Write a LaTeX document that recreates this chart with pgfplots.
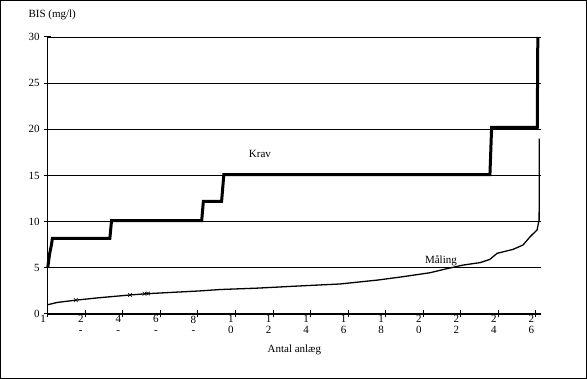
\documentclass[border=0pt]{standalone}
\usepackage{fontspec}
\setmainfont{Liberation Serif}
\usepackage{pgfplots}
\pgfplotsset{compat=1.18}
\begin{document}
\begin{tikzpicture}[font=\fontsize{11bp}{12bp}\selectfont]
\path[use as bounding box] (0,0) rectangle (587bp,379bp);
\draw[line width=1bp] (0.5bp,0.5bp) rectangle (586.5bp,378.5bp);
\begin{axis}[
  scale only axis, width=493.3bp, height=277bp,
  at={(47.7bp,65bp)}, anchor=south west,
  xmin=1, xmax=263.7, ymin=0, ymax=30,
  axis x line=bottom, axis y line=left,
  axis line style={-, line width=1bp, black},
  clip=false,
  /pgf/number format/assume math mode=true,
  tick align=center, major tick length=7bp,
  tick style={black, line width=1bp},
  ytick={0,5,...,30},
  ymajorgrids, grid style={black, line width=0.9bp},
  xtick={1,21,...,261},
  xticklabels={1,{2\\-},{4\\-},{6\\-},{8\\-},{1\\0},{1\\2},{1\\4},{1\\6},{1\\8},{2\\0},{2\\2},{2\\4},{2\\6}},
  xticklabel style={align=center, xshift=-4.5bp, anchor=north, yshift=3bp, inner sep=1bp, font=\fontsize{11bp}{10.5bp}\selectfont},
  yticklabel style={anchor=east, xshift=-1bp, font=\fontsize{11bp}{12bp}\selectfont},
  xlabel={Antal anlæg},
  ylabel={BIS (mg/l)},
  every axis x label/.style={at={(rel axis cs:0.5,0)}, anchor=center, yshift=-36bp},
  every axis y label/.style={at={(rel axis cs:0,1)}, anchor=west, xshift=-22.7bp, yshift=22bp},
]
% Krav
\addplot[black, line width=3bp] coordinates {
 (1,5.0) (2,6.5) (3,7.5) (3.5,8.2) (34.1,8.2) (35,10.1) (83,10.1) (83.9,12.2)
 (93.6,12.2) (94.8,15.1) (236.5,15.1) (237.4,20.2) (261.7,20.2) (262,30)
};
% Maaling
\addplot[black, line width=1.3bp] coordinates {
 (1,1.0) (6,1.25) (16,1.5) (27.8,1.75) (44.8,2.06) (53.9,2.2) (82.1,2.5)
 (92.7,2.65) (112.5,2.8) (134.3,3.03) (156.6,3.25) (176.9,3.68) (190.2,4.04)
 (204.6,4.47) (213.6,4.91) (222.2,5.3) (231.2,5.56) (236.5,5.92) (240.3,6.57)
 (248.8,7.0) (254.1,7.47) (257.9,8.37) (261.6,9.1) (262.7,10.2) (262.8,19.0)
};
\addplot[only marks, black, mark=x, mark size=2.5bp, mark options={line width=0.6bp}] coordinates {
 (16,1.5) (44.8,2.06) (52.5,2.2) (54.5,2.22)
};
\node at (axis cs:114,17.3) {Krav};
\node at (axis cs:210.4,5.77) {Måling};
\end{axis}
\end{tikzpicture}
\end{document}
